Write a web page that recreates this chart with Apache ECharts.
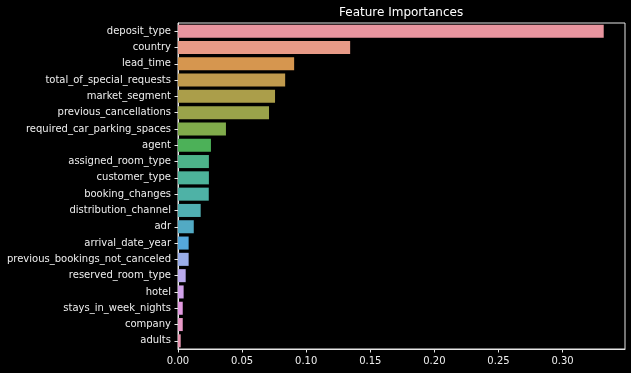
<!DOCTYPE html>
<html>
<head>
<meta charset="utf-8">
<script src="https://cdn.jsdelivr.net/npm/echarts@6/dist/echarts.min.js"></script>
<style>html,body{margin:0;padding:0;background:#000;}#c{width:631px;height:373px;}</style>
</head>
<body>
<div id="c"></div>
<script>
const categories = ["deposit_type","country","lead_time","total_of_special_requests","market_segment","previous_cancellations","required_car_parking_spaces","agent","assigned_room_type","customer_type","booking_changes","distribution_channel","adr","arrival_date_year","previous_bookings_not_canceled","reserved_room_type","hotel","stays_in_week_nights","company","adults"];
const importances = [0.3321,0.1343,0.0906,0.0836,0.0757,0.0710,0.0374,0.0257,0.0241,0.0241,0.0240,0.0177,0.0123,0.0083,0.0083,0.0060,0.0044,0.0037,0.0037,0.0021];
const barColors = ["#e8959f","#e89a87","#d6964f","#c09a4d","#ab9e4a","#9aa34a","#80ab4b","#4cb158","#4db38a","#4db39a","#4eb2a6","#50afb2","#52aac4","#55a8dc","#9aaee9","#b9a9ec","#d1a2ea","#e39ae0","#e99ac7","#ea98b2"];
const xTicks = [0, 0.05, 0.10, 0.15, 0.20, 0.25, 0.30];
const xMax = 0.3487;
const title = "Feature Importances";

const chart = echarts.init(document.getElementById('c'), null, {renderer: 'canvas'});
chart.setOption({
  backgroundColor: '#000000',
  animation: false,
  title: {
    text: title, left: 334, top: 2,
    textStyle: {color: '#ffffff', fontSize: 12, fontWeight: 'normal', fontFamily: 'DejaVu Sans'}
  },
  grid: {left: 178, top: 23, right: 6, bottom: 24, show: true, borderColor: '#e6e6e6', borderWidth: 1, backgroundColor: 'transparent'},
  xAxis: {
    type: 'value', min: 0, max: xMax,
    axisLine: {show: true, lineStyle: {color: '#e6e6e6'}},
    axisTick: {show: true, length: 3.5, lineStyle: {color: '#e6e6e6'}, customValues: xTicks},
    axisLabel: {color: '#eeeeee', fontSize: 10, fontFamily: 'DejaVu Sans', margin: 7, customValues: xTicks, formatter: v => v.toFixed(2)},
    splitLine: {show: false}
  },
  yAxis: {
    type: 'category', data: categories, inverse: true,
    axisLine: {show: true, lineStyle: {color: '#e6e6e6'}},
    axisTick: {show: true, length: 3.5, alignWithLabel: true, lineStyle: {color: '#e6e6e6'}},
    axisLabel: {color: '#eeeeee', fontSize: 10, fontFamily: 'DejaVu Sans', margin: 7, interval: 0},
    splitLine: {show: false}
  },
  series: [{
    type: 'bar',
    barCategoryGap: '20%',
    data: importances.map((v, i) => ({value: v, itemStyle: {color: barColors[i]}}))
  }]
});
</script>
</body>
</html>
